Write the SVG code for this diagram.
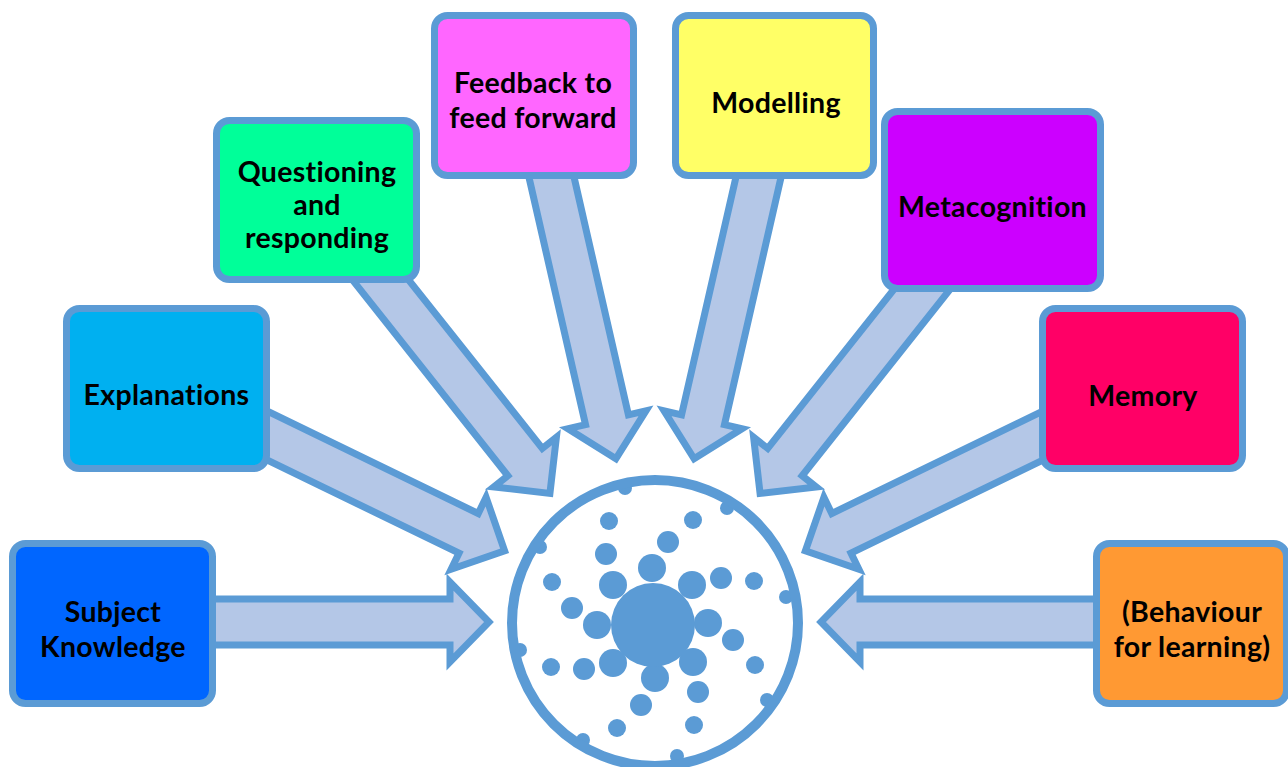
<svg xmlns="http://www.w3.org/2000/svg" width="1288" height="767" viewBox="0 0 1288 767">
<style>
.box{stroke:#5b9bd5;stroke-width:7}
.arr{fill:#b4c7e7;stroke:#5b9bd5;stroke-width:7;stroke-linejoin:miter;stroke-miterlimit:10}
.lbl{font-family:Lato,"Liberation Sans",sans-serif;font-weight:700;font-size:28.5px;letter-spacing:0.3px;fill:#000;text-anchor:middle}
.dot{fill:#5b9bd5}
</style>
<rect width="1288" height="767" fill="#fff"/>
<g id="connectors">
<path class="arr" transform="translate(180,622)" d="M0,-23 H270 V-40 L309,0 L270,40 V23 H0 Z"/>
<path class="arr" transform="translate(1130,622) rotate(180)" d="M0,-23 H270 V-40 L309,0 L270,40 V23 H0 Z"/>
<path class="arr" transform="translate(232,418.5) rotate(25.88)" d="M0,-22 H263 V-40 L303,0 L263,40 V22 H0 Z"/>
<path class="arr" transform="translate(1078,418.5) rotate(154.12)" d="M0,-22 H263 V-40 L303,0 L263,40 V22 H0 Z"/>
<path class="arr" transform="translate(356,249) rotate(51.57)" d="M0,-22 H272 V-40 L312,0 L272,40 V22 H0 Z"/>
<path class="arr" transform="translate(954,249) rotate(128.43)" d="M0,-22 H272 V-40 L312,0 L272,40 V22 H0 Z"/>
<path class="arr" transform="translate(543,140) rotate(77.12)" d="M0,-22 H287 V-40 L327,0 L287,40 V22 H0 Z"/>
<path class="arr" transform="translate(767,140) rotate(102.88)" d="M0,-22 H287 V-40 L327,0 L287,40 V22 H0 Z"/>
</g>
<g id="subject-knowledge">
<rect class="box" x="12.5" y="543.5" width="200" height="160" rx="13" fill="#0066ff"/>
<text class="lbl" x="113" y="622">Subject</text>
<text class="lbl" x="113" y="657">Knowledge</text>
</g>
<g id="explanations">
<rect class="box" x="66.5" y="308.5" width="200" height="160" rx="13" fill="#00b0f0"/>
<text class="lbl" x="166.5" y="405">Explanations</text>
</g>
<g id="questioning">
<rect class="box" x="216.5" y="120.5" width="200" height="159" rx="13" fill="#00ff99"/>
<text class="lbl" x="317" y="182">Questioning</text>
<text class="lbl" x="317" y="215">and</text>
<text class="lbl" x="317" y="248">responding</text>
</g>
<g id="feedback">
<rect class="box" x="434.5" y="15.5" width="199" height="160" rx="13" fill="#ff66ff"/>
<text class="lbl" x="533" y="93">Feedback to</text>
<text class="lbl" x="533" y="128">feed forward</text>
</g>
<g id="modelling">
<rect class="box" x="675.5" y="15.5" width="198" height="160" rx="13" fill="#ffff66"/>
<text class="lbl" x="776" y="112.5">Modelling</text>
</g>
<g id="metacognition">
<rect class="box" x="884.5" y="111.5" width="216" height="177" rx="13" fill="#cc00ff"/>
<text class="lbl" x="992.5" y="216.5">Metacognition</text>
</g>
<g id="memory">
<rect class="box" x="1042.5" y="308.5" width="200" height="160" rx="13" fill="#ff0066"/>
<text class="lbl" x="1143" y="405.5">Memory</text>
</g>
<g id="behaviour">
<rect class="box" x="1096.5" y="543.5" width="190" height="160" rx="13" fill="#ff9933"/>
<text class="lbl" x="1192" y="622">(Behaviour</text>
<text class="lbl" x="1192" y="657">for learning)</text>
</g>
<g id="learning-circle">
<circle cx="655" cy="623" r="143" fill="#fff"/>
<g class="dot">
<circle cx="625" cy="488" r="7"/><circle cx="727" cy="508" r="7"/><circle cx="540" cy="547" r="7"/><circle cx="786" cy="597" r="7"/>
<circle cx="520" cy="650" r="7"/><circle cx="767" cy="700" r="7"/><circle cx="583" cy="740" r="7"/><circle cx="677" cy="756" r="7"/>
<circle cx="609" cy="521" r="9"/><circle cx="693" cy="520" r="9"/><circle cx="552" cy="582" r="9"/><circle cx="754" cy="581" r="9"/>
<circle cx="551" cy="667" r="9"/><circle cx="755" cy="665" r="9"/><circle cx="617" cy="728" r="9"/><circle cx="694" cy="725" r="9"/>
<circle cx="668" cy="542" r="11"/><circle cx="606" cy="554" r="11"/><circle cx="572" cy="608" r="11"/><circle cx="584" cy="669" r="11"/>
<circle cx="641" cy="705" r="11"/><circle cx="698" cy="692" r="11"/><circle cx="733" cy="640" r="11"/><circle cx="721" cy="578" r="11"/>
<circle cx="652" cy="568" r="14"/><circle cx="613" cy="585" r="14"/><circle cx="692" cy="585" r="14"/><circle cx="597" cy="625" r="14"/>
<circle cx="708" cy="623" r="14"/><circle cx="613" cy="663" r="14"/><circle cx="655" cy="678" r="14"/><circle cx="693" cy="662" r="14"/>
<circle cx="653" cy="625" r="42"/>
</g>
<circle cx="655" cy="623" r="143" fill="none" stroke="#5b9bd5" stroke-width="10"/>
</g>
</svg>
